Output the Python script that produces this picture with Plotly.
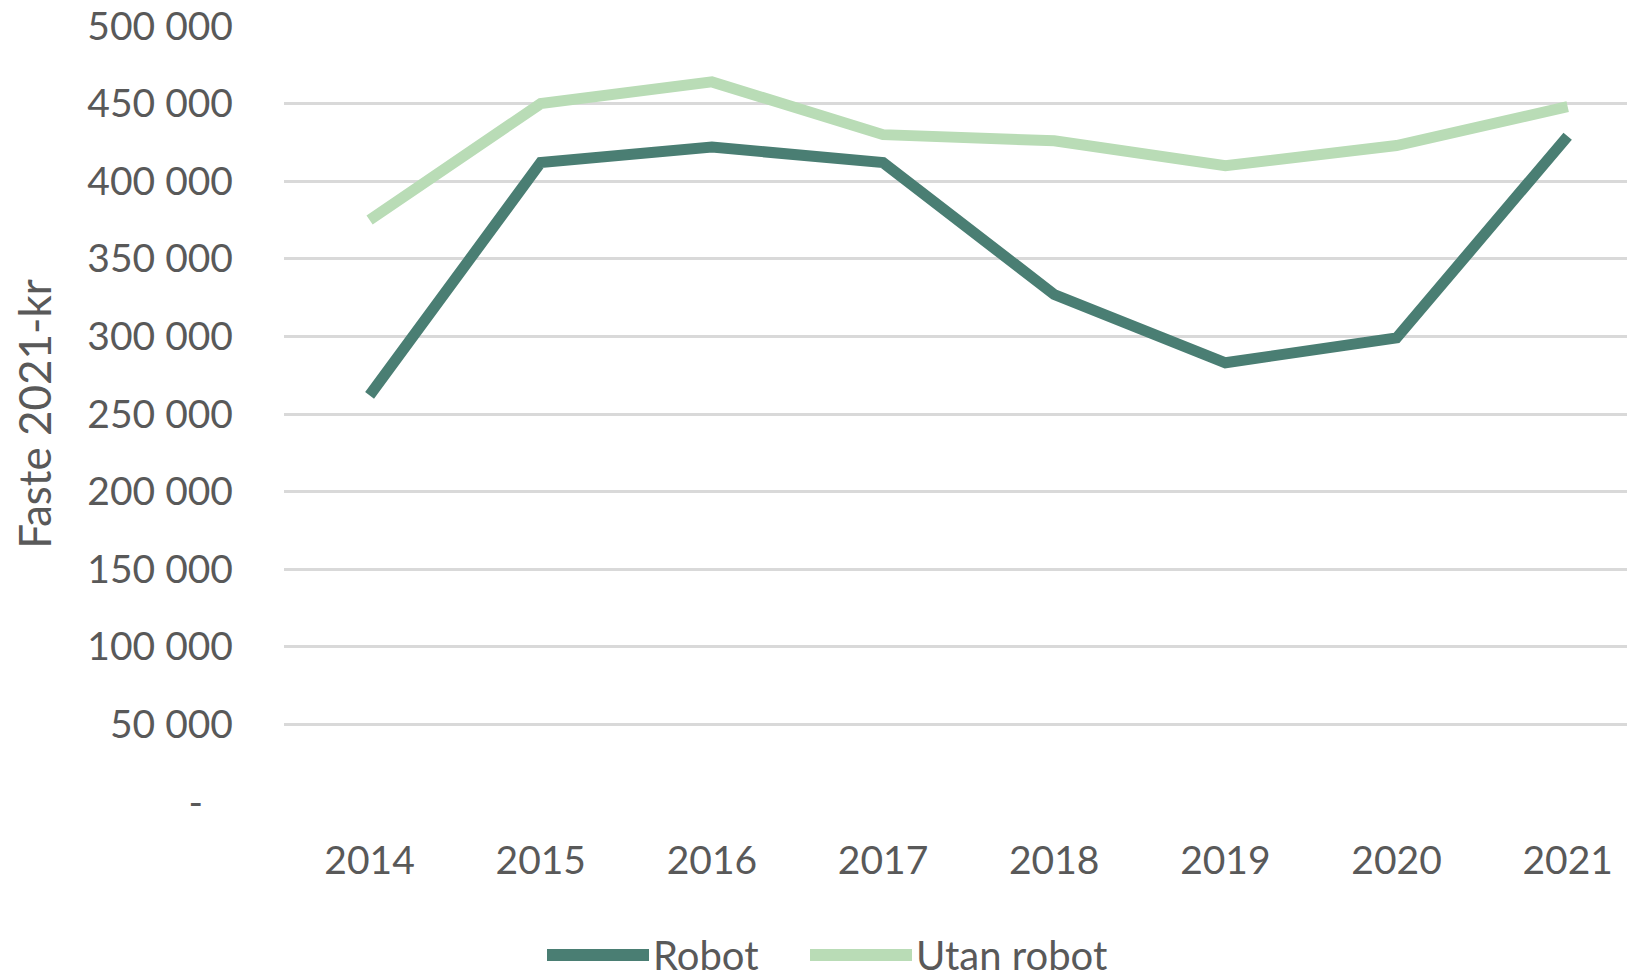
import plotly.graph_objects as go

years = ["2014", "2015", "2016", "2017", "2018", "2019", "2020", "2021"]
robot = [262000, 412000, 422000, 412000, 327000, 283000, 299000, 429000]
utan_robot = [375000, 450000, 464000, 430000, 426000, 410000, 423000, 448000]
ytick_vals = [0, 50000, 100000, 150000, 200000, 250000, 300000, 350000, 400000, 450000, 500000]
ytick_text = ["-\u00a0\u00a0\u00a0", "50 000", "100 000", "150 000", "200 000", "250 000",
              "300 000", "350 000", "400 000", "450 000", "500 000"]

C_ROBOT = "#4A7E73"
C_UTAN = "#B9DCB6"
FONT = "Lato"
TXT = "#595959"

fig = go.Figure()
fig.add_trace(go.Scatter(x=years, y=utan_robot, mode="lines", name="Utan robot",
                         line=dict(color=C_UTAN, width=11), cliponaxis=False))
fig.add_trace(go.Scatter(x=years, y=robot, mode="lines", name="Robot",
                         line=dict(color=C_ROBOT, width=11), cliponaxis=False))

# page body has an 8px margin: figure coords = photo coords - 8
OFF = 8
W, H = 1635 - OFF, 978 - OFF
L, R, T = 284 - OFF, 0, 26 - OFF
B = H - (802 - OFF)
pw, ph = W - L - R, H - T - B

def px(x):
    return (x - OFF - L) / pw

def py(y):
    return (H - B - (y - OFF)) / ph

shapes = []
annotations = []
legend_items = [("Robot", C_ROBOT, 547, 649), ("Utan robot", C_UTAN, 810, 912)]
ly = 955
for name, col, x0, x1 in legend_items:
    shapes.append(dict(type="line", xref="paper", yref="paper", x0=px(x0), x1=px(x1),
                       y0=py(ly), y1=py(ly), line=dict(color=col, width=12)))
    annotations.append(dict(xref="paper", yref="paper", x=px(x1 + 2), y=py(ly),
                            text=name, showarrow=False, xanchor="left", yanchor="middle",
                            font=dict(family=FONT, size=40, color=TXT)))

# x range: category 0 at photo x=370, spacing 171.1 px
x_right = (1635 - 370) / 171.1

fig.update_layout(
    width=W, height=H,
    margin=dict(l=L, r=R, t=T, b=B, autoexpand=False),
    paper_bgcolor="white", plot_bgcolor="white",
    showlegend=False,
    font=dict(family=FONT, size=39, color=TXT),
    shapes=shapes, annotations=annotations,
    xaxis=dict(type="category", range=[-0.5, x_right], showgrid=False, zeroline=False,
               showline=False, ticks="", ticklabelstandoff=32, automargin=False,
               tickfont=dict(family=FONT, size=39, color=TXT)),
    yaxis=dict(range=[0, 500000], tickvals=ytick_vals, ticktext=ytick_text,
               showgrid=True, gridcolor="#D9D9D9", gridwidth=3, zeroline=False,
               showline=False, ticks="", ticklabelstandoff=50, ticklabeloverflow="allow",
               automargin=False,
               tickfont=dict(family=FONT, size=39, color=TXT),
               title=dict(text="Faste 2021-kr", standoff=25,
                          font=dict(family=FONT, size=44, color=TXT))),
)

fig.write_html("out.html")
